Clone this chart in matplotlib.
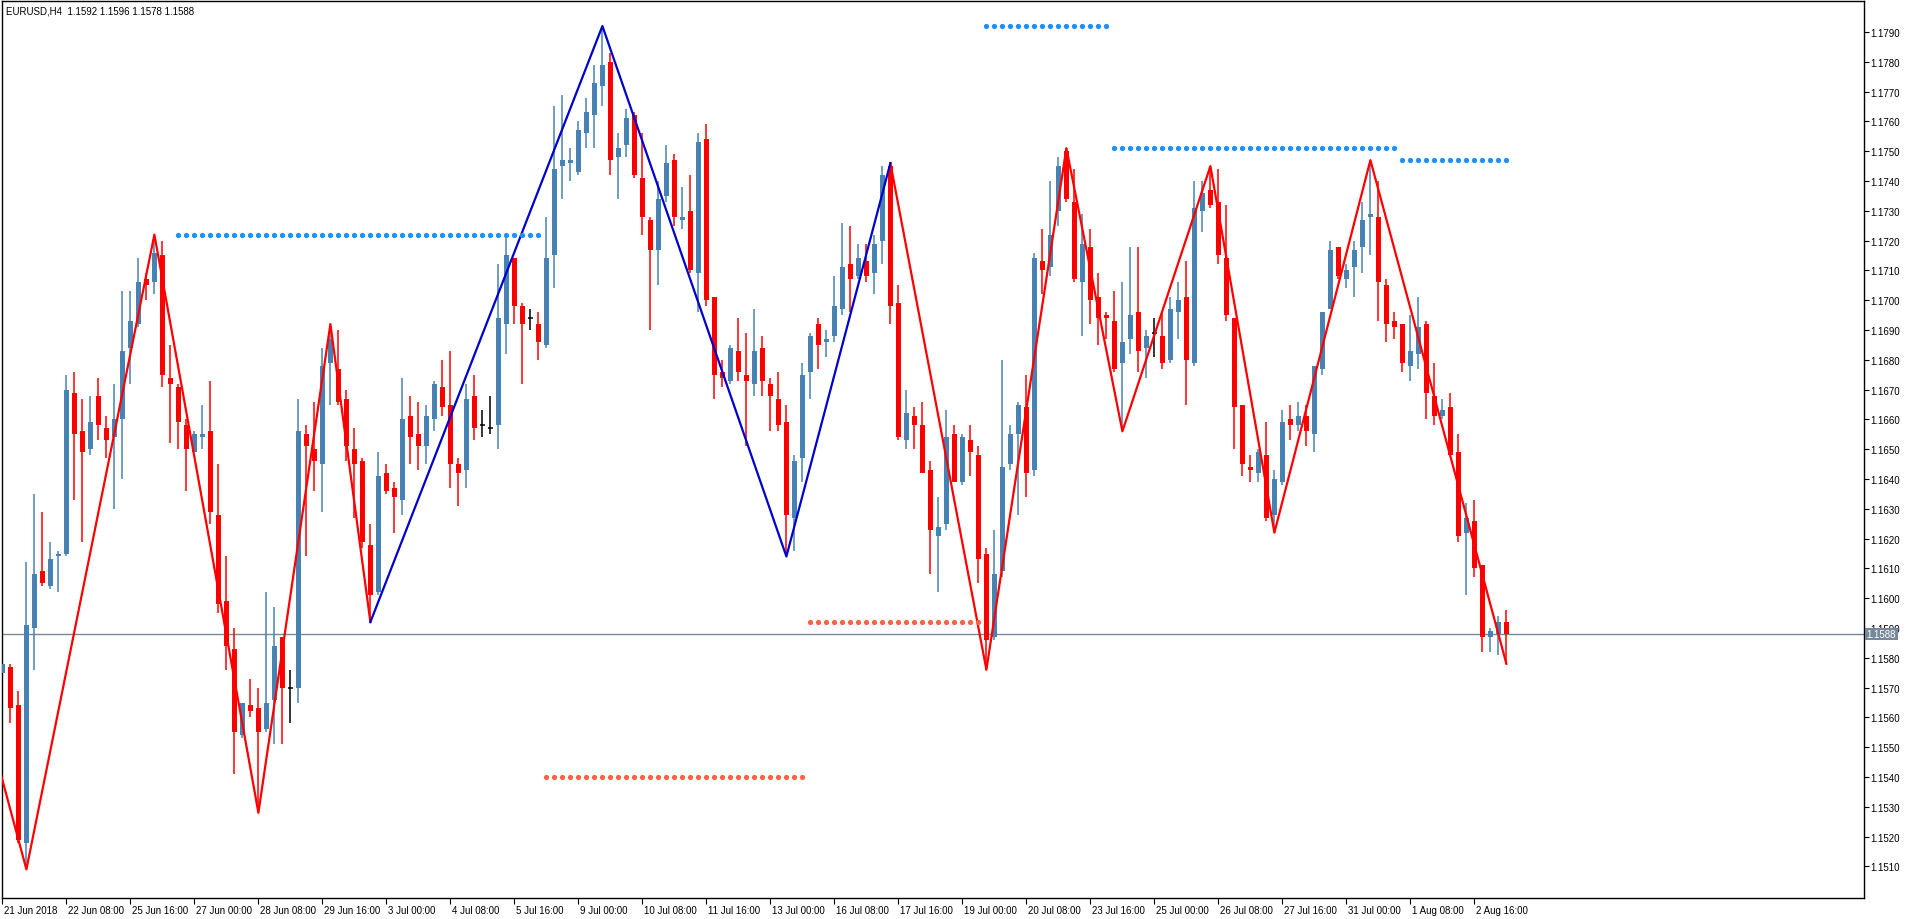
import matplotlib
matplotlib.use("Agg")
import matplotlib.pyplot as plt
import matplotlib.transforms as mtransforms
import numpy as np

plt.rcParams['font.family'] = ['Liberation Sans', 'DejaVu Sans']

# EURUSD H4 candles, 21 Jun 2018 00:00 onwards
opens = [1.1575, 1.1577, 1.1564, 1.1518, 1.1590, 1.1609, 1.1604, 1.1614, 1.1615, 1.1669,
         1.1656, 1.1650, 1.1668, 1.1657, 1.1654, 1.1660, 1.1684, 1.1692, 1.1707, 1.1706,
         1.1715, 1.1674, 1.1671, 1.1658, 1.1649, 1.1654, 1.1656, 1.1628, 1.1599, 1.1583,
         1.1554, 1.1564, 1.1563, 1.1556, 1.1566, 1.1587, 1.1570, 1.1570, 1.1655, 1.1650,
         1.1645, 1.1679, 1.1677, 1.1667, 1.1650, 1.1646, 1.1618, 1.1602, 1.1642, 1.1637,
         1.1633, 1.1661, 1.1655, 1.1651, 1.1660, 1.1671, 1.1665, 1.1645, 1.1643, 1.1668,
         1.1658, 1.1657, 1.1658, 1.1692, 1.1714, 1.1698, 1.1694, 1.1692, 1.1685, 1.1715,
         1.1745, 1.1746, 1.1743, 1.1756, 1.1762, 1.1772, 1.1780, 1.1748, 1.1752, 1.1762,
         1.1741, 1.1727, 1.1717, 1.1735, 1.1747, 1.1727, 1.1730, 1.1709, 1.1754, 1.1701,
         1.1676, 1.1673, 1.1683, 1.1675, 1.1672, 1.1684, 1.1672, 1.1667, 1.1659, 1.1627,
         1.1647, 1.1676, 1.1692, 1.1686, 1.1688, 1.1697, 1.1712, 1.1708, 1.1713, 1.1709,
         1.1720, 1.1745, 1.1699, 1.1653, 1.1661, 1.1658, 1.1643, 1.1621, 1.1625, 1.1655,
         1.1639, 1.1653, 1.1648, 1.1615, 1.1587, 1.1609, 1.1645, 1.1655, 1.1664, 1.1643,
         1.1713, 1.1711, 1.1730, 1.1750, 1.1733, 1.1706, 1.1718, 1.1701, 1.1695, 1.1693,
         1.1679, 1.1687, 1.1696, 1.1684, 1.1689, 1.1688, 1.1680, 1.1696, 1.1701, 1.1679,
         1.1730, 1.1737, 1.1733, 1.1714, 1.1694, 1.1665, 1.1644, 1.1642, 1.1648, 1.1628,
         1.1639, 1.1660, 1.1658, 1.1661, 1.1655, 1.1677, 1.1697, 1.1718, 1.1707, 1.1711,
         1.1718, 1.1728, 1.1728, 1.1705, 1.1693, 1.1692, 1.1678, 1.1682, 1.1692, 1.1668,
         1.1661, 1.1664, 1.1649, 1.1622, 1.1626, 1.1611, 1.1587, 1.1588, 1.1592]
highs = [1.1581, 1.1578, 1.1569, 1.1612, 1.1635, 1.1629, 1.1619, 1.1616, 1.1675, 1.1676,
         1.1667, 1.1668, 1.1674, 1.1661, 1.1672, 1.1703, 1.1703, 1.1714, 1.1709, 1.1722,
         1.1720, 1.1685, 1.1672, 1.1660, 1.1656, 1.1665, 1.1673, 1.1645, 1.1614, 1.1590,
         1.1565, 1.1573, 1.1570, 1.1602, 1.1597, 1.1587, 1.1576, 1.1667, 1.1658, 1.1666,
         1.1684, 1.1692, 1.1690, 1.1670, 1.1657, 1.1647, 1.1625, 1.1649, 1.1645, 1.1639,
         1.1674, 1.1668, 1.1666, 1.1665, 1.1673, 1.1680, 1.1683, 1.1647, 1.1672, 1.1675,
         1.1663, 1.1668, 1.1712, 1.1721, 1.1714, 1.1699, 1.1697, 1.1696, 1.1728, 1.1765,
         1.1769, 1.1751, 1.1760, 1.1768, 1.1779, 1.1792, 1.1783, 1.1756, 1.1764, 1.1763,
         1.1756, 1.1728, 1.1740, 1.1752, 1.1749, 1.1738, 1.1742, 1.1756, 1.1759, 1.1701,
         1.1680, 1.1685, 1.1694, 1.1689, 1.1697, 1.1688, 1.1674, 1.1676, 1.1665, 1.1648,
         1.1679, 1.1689, 1.1694, 1.1690, 1.1708, 1.1726, 1.1725, 1.1719, 1.1719, 1.1722,
         1.1745, 1.1746, 1.1705, 1.1670, 1.1664, 1.1666, 1.1646, 1.1634, 1.1663, 1.1658,
         1.1655, 1.1658, 1.1651, 1.1617, 1.1623, 1.1680, 1.1658, 1.1666, 1.1675, 1.1716,
         1.1724, 1.1740, 1.1748, 1.1751, 1.1744, 1.1729, 1.1724, 1.1709, 1.1696, 1.1703,
         1.1706, 1.1718, 1.1718, 1.1690, 1.1694, 1.1696, 1.1701, 1.1706, 1.1713, 1.1740,
         1.1740, 1.1745, 1.1744, 1.1732, 1.1694, 1.1665, 1.1648, 1.1650, 1.1659, 1.1643,
         1.1663, 1.1665, 1.1666, 1.1665, 1.1678, 1.1696, 1.1720, 1.1718, 1.1712, 1.1720,
         1.1733, 1.1747, 1.1740, 1.1707, 1.1696, 1.1692, 1.1695, 1.1701, 1.1693, 1.1679,
         1.1667, 1.1669, 1.1655, 1.1632, 1.1633, 1.1611, 1.1590, 1.1594, 1.1596]
lows = [1.1572, 1.1558, 1.1518, 1.1509, 1.1576, 1.1604, 1.1603, 1.1602, 1.1614, 1.1633,
        1.1619, 1.1648, 1.1653, 1.1647, 1.1630, 1.1640, 1.1672, 1.1691, 1.1700, 1.1702,
        1.1671, 1.1652, 1.1650, 1.1636, 1.1649, 1.1650, 1.1625, 1.1595, 1.1576, 1.1541,
        1.1553, 1.1560, 1.1528, 1.1555, 1.1551, 1.1551, 1.1558, 1.1565, 1.1614, 1.1636,
        1.1629, 1.1665, 1.1665, 1.1646, 1.1627, 1.1617, 1.1592, 1.1601, 1.1635, 1.1622,
        1.1628, 1.1645, 1.1643, 1.1645, 1.1656, 1.1661, 1.1637, 1.1631, 1.1637, 1.1653,
        1.1654, 1.1655, 1.1650, 1.1682, 1.1692, 1.1672, 1.1690, 1.1680, 1.1684, 1.1704,
        1.1734, 1.1740, 1.1742, 1.1751, 1.1751, 1.1765, 1.1742, 1.1734, 1.1748, 1.1741,
        1.1722, 1.1690, 1.1705, 1.1733, 1.1725, 1.1724, 1.1709, 1.1696, 1.1698, 1.1667,
        1.1671, 1.1672, 1.1673, 1.1651, 1.1668, 1.1668, 1.1656, 1.1656, 1.1614, 1.1616,
        1.1639, 1.1667, 1.1677, 1.1681, 1.1686, 1.1695, 1.1696, 1.1707, 1.1706, 1.1702,
        1.1712, 1.1692, 1.1653, 1.1650, 1.1650, 1.1642, 1.1608, 1.1602, 1.1623, 1.1639,
        1.1638, 1.1641, 1.1605, 1.1576, 1.1586, 1.1607, 1.1643, 1.1628, 1.1634, 1.1641,
        1.1702, 1.1708, 1.1725, 1.1733, 1.1706, 1.1688, 1.1692, 1.1685, 1.1687, 1.1676,
        1.1656, 1.1682, 1.1676, 1.1674, 1.1681, 1.1677, 1.1679, 1.1687, 1.1665, 1.1678,
        1.1723, 1.1731, 1.1712, 1.1693, 1.1650, 1.1641, 1.1639, 1.1639, 1.1626, 1.1622,
        1.1638, 1.1653, 1.1656, 1.1651, 1.1649, 1.1675, 1.1697, 1.1707, 1.1704, 1.1701,
        1.1709, 1.1715, 1.1693, 1.1686, 1.1687, 1.1676, 1.1673, 1.1677, 1.1660, 1.1658,
        1.1660, 1.1648, 1.1619, 1.1601, 1.1607, 1.1582, 1.1582, 1.1581, 1.1578]
closes = [1.1578, 1.1563, 1.1519, 1.1591, 1.1608, 1.1605, 1.1613, 1.1615, 1.1670, 1.1655,
          1.1649, 1.1659, 1.1658, 1.1653, 1.1660, 1.1683, 1.1693, 1.1706, 1.1705, 1.1716,
          1.1675, 1.1672, 1.1659, 1.1650, 1.1655, 1.1655, 1.1629, 1.1598, 1.1584, 1.1555,
          1.1565, 1.1562, 1.1555, 1.1565, 1.1584, 1.1570, 1.1570, 1.1656, 1.1651, 1.1646,
          1.1678, 1.1687, 1.1666, 1.1651, 1.1645, 1.1619, 1.1601, 1.1641, 1.1636, 1.1634,
          1.1660, 1.1654, 1.1651, 1.1661, 1.1672, 1.1664, 1.1645, 1.1642, 1.1667, 1.1657,
          1.1658, 1.1657, 1.1694, 1.1715, 1.1698, 1.1692, 1.1694, 1.1686, 1.1714, 1.1744,
          1.1747, 1.1747, 1.1757, 1.1763, 1.1773, 1.1779, 1.1747, 1.1751, 1.1761, 1.1742,
          1.1728, 1.1717, 1.1734, 1.1746, 1.1728, 1.1728, 1.1710, 1.1753, 1.1700, 1.1675,
          1.1674, 1.1684, 1.1676, 1.1673, 1.1683, 1.1673, 1.1668, 1.1658, 1.1628, 1.1646,
          1.1675, 1.1688, 1.1685, 1.1687, 1.1698, 1.1711, 1.1707, 1.1714, 1.1708, 1.1719,
          1.1742, 1.1698, 1.1654, 1.1662, 1.1658, 1.1642, 1.1623, 1.1624, 1.1654, 1.1639,
          1.1654, 1.1649, 1.1613, 1.1586, 1.1608, 1.1644, 1.1655, 1.1665, 1.1642, 1.1714,
          1.1710, 1.1722, 1.1745, 1.1734, 1.1707, 1.1719, 1.1700, 1.1694, 1.1694, 1.1677,
          1.1686, 1.1695, 1.1683, 1.1688, 1.1689, 1.1679, 1.1697, 1.1700, 1.1680, 1.1731,
          1.1736, 1.1732, 1.1715, 1.1695, 1.1664, 1.1645, 1.1643, 1.1649, 1.1627, 1.1640,
          1.1659, 1.1658, 1.1661, 1.1656, 1.1678, 1.1696, 1.1717, 1.1708, 1.1710, 1.1717,
          1.1727, 1.1729, 1.1706, 1.1692, 1.1691, 1.1679, 1.1683, 1.1691, 1.1669, 1.1661,
          1.1663, 1.1648, 1.1621, 1.1627, 1.1610, 1.1587, 1.1589, 1.1592, 1.1588]

time_labels = ["21 Jun 2018", "22 Jun 08:00", "25 Jun 16:00", "27 Jun 00:00", "28 Jun 08:00",
               "29 Jun 16:00", "3 Jul 00:00", "4 Jul 08:00", "5 Jul 16:00", "9 Jul 00:00",
               "10 Jul 08:00", "11 Jul 16:00", "13 Jul 00:00", "16 Jul 08:00", "17 Jul 16:00",
               "19 Jul 00:00", "20 Jul 08:00", "23 Jul 16:00", "25 Jul 00:00", "26 Jul 08:00",
               "27 Jul 16:00", "31 Jul 00:00", "1 Aug 08:00", "2 Aug 16:00"]

# zigzag swing points (bar index, price)
zz_red1_idx = [-1, 3, 19, 32, 41, 46]
zz_red1_px = [1.1549, 1.1509, 1.1722, 1.1528, 1.1692, 1.1592]
zz_blue_idx = [46, 75, 98, 111]
zz_blue_px = [1.1592, 1.1792, 1.1614, 1.1746]
zz_red2_idx = [111, 123, 133, 140, 151, 159, 171, 188]
zz_red2_px = [1.1746, 1.1576, 1.1751, 1.1656, 1.1745, 1.1622, 1.1747, 1.1578]

# dotted levels: (first bar, last bar, price)
resist_levels = [(22, 67, 1.1722), (123, 138, 1.1792), (139, 174, 1.1751), (175, 188, 1.1747)]
support_levels = [(68, 100, 1.1540), (101, 122, 1.1592)]

last_price = 1.1588

bull = '#4682B4'
bear = '#FF0000'

fig = plt.figure(figsize=(19.12, 9.2), dpi=100)
ax = fig.add_axes([2 / 1912, 21 / 920, 1862 / 1912, 897 / 920])

o = np.array(opens)
h = np.array(highs)
l = np.array(lows)
c = np.array(closes)
x = np.arange(len(o))
cols = np.where(c > o, bull, np.where(c < o, bear, 'black'))

ax.vlines(x, l, h, colors=cols, linewidth=1.1, zorder=2)
body_lo = np.minimum(o, c)
body_h = np.maximum(np.abs(c - o), 0.00003)
mask = c != o
ax.bar(x[mask], body_h[mask], bottom=body_lo[mask], width=0.62, color=cols[mask],
       linewidth=0, zorder=3)
dj = ~mask
ax.hlines(o[dj], x[dj] - 0.31, x[dj] + 0.31, colors='black', linewidth=1.1, zorder=3)

ax.plot(zz_red1_idx, zz_red1_px, color='#FF0000', linewidth=1.6, zorder=4)
ax.plot(zz_red2_idx, zz_red2_px, color='#FF0000', linewidth=1.6, zorder=4)
ax.plot(zz_blue_idx, zz_blue_px, color='#0000CC', linewidth=1.6, zorder=4)

for a, b, p in resist_levels:
    xs = np.arange(a, b + 1)
    ax.plot(xs, [p] * len(xs), linestyle='none', marker='o', markersize=3.8,
            color='#1E90FF', markeredgewidth=0, zorder=5)
for a, b, p in support_levels:
    xs = np.arange(a, b + 1)
    ax.plot(xs, [p] * len(xs), linestyle='none', marker='o', markersize=3.8,
            color='#FF6347', markeredgewidth=0, zorder=5)

ax.axhline(last_price, color='#778899', linewidth=1, zorder=1)

ax.set_xlim(-0.05, 232.7)
ax.set_ylim(1.14994, 1.18004)

for s in ax.spines.values():
    s.set_color('black')
    s.set_linewidth(1)

# price axis on the right
ax.yaxis.tick_right()
yt = np.round(np.arange(1.1510, 1.17901, 0.0010), 4)
ax.set_yticks(yt)
ax.set_yticklabels([f"{v:.4f}" for v in yt], fontsize=7)
ax.tick_params(axis='y', direction='out', length=3.5, width=0.8, pad=1)

# time axis: labels start just right of the tick
xt = np.arange(len(time_labels)) * 8
ax.set_xticks(xt)
ax.set_xticklabels(time_labels, fontsize=7, ha='left')
ax.tick_params(axis='x', direction='out', length=4, width=0.8, pad=1)
off = mtransforms.ScaledTranslation(2 / 100, 0, fig.dpi_scale_trans)
for lab in ax.get_xticklabels():
    lab.set_transform(lab.get_transform() + off)

ax.text(4 / 1862, 1 - 9 / 897, "EURUSD,H4  1.1592 1.1596 1.1578 1.1588", transform=ax.transAxes,
        fontsize=7, ha='left', va='center', color='black')

ax.text(1.0015, last_price, f"{last_price:.4f}",
        transform=mtransforms.blended_transform_factory(ax.transAxes, ax.transData),
        fontsize=7, color='white', ha='left', va='center', clip_on=False,
        bbox=dict(boxstyle='square,pad=0.15', facecolor='#778899', edgecolor='none'), zorder=6)

fig.savefig('out.png', dpi=100, facecolor='white')
